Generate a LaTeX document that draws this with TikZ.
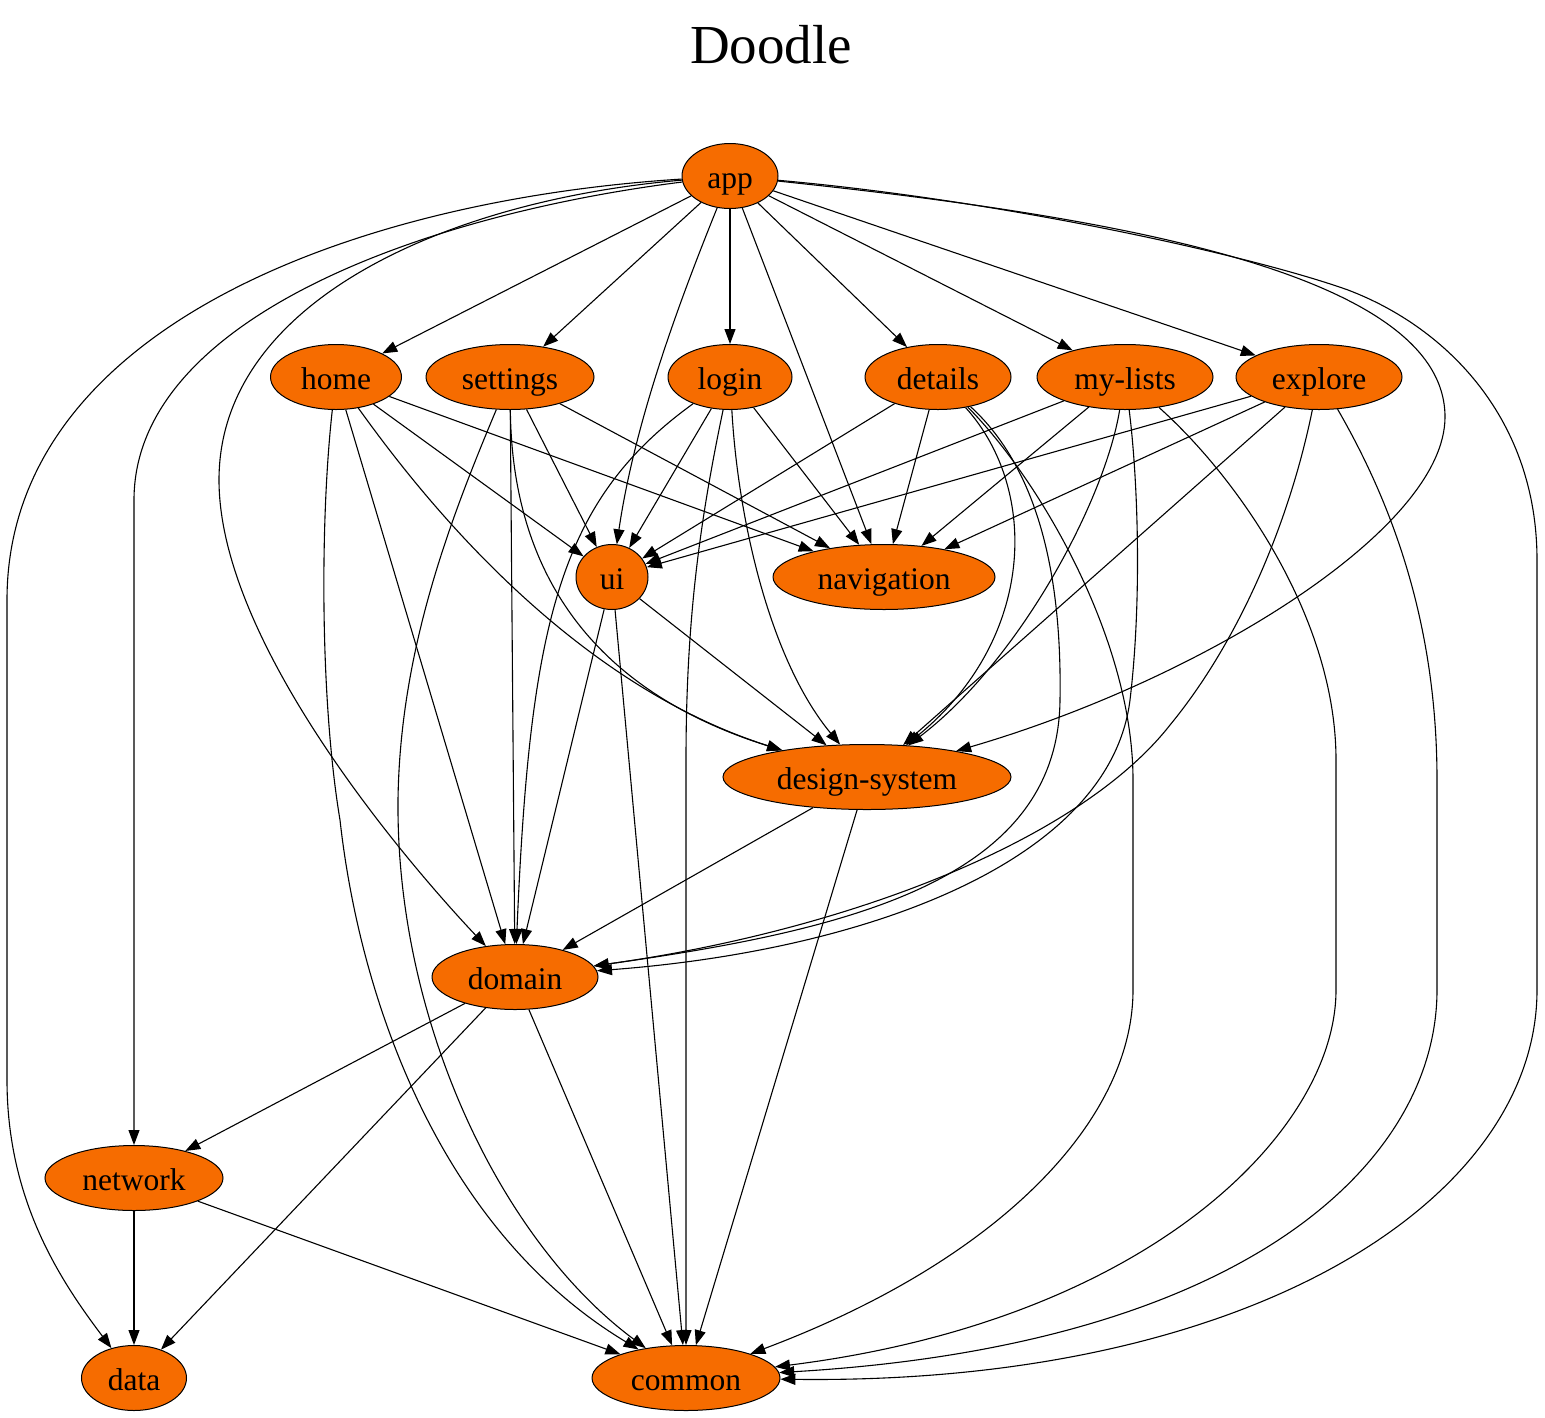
\documentclass[tikz,border=0pt]{standalone}
\usepackage{fontspec}
\setmainfont{Liberation Serif}
\usetikzlibrary{shapes.geometric,arrows.meta}
\definecolor{modfill}{RGB}{246,108,0}
\begin{document}
\begin{tikzpicture}[x=1pt,y=-1pt,
  mod/.style={ellipse, draw=black, line width=1pt, fill=modfill, inner sep=0pt,
    minimum height=65pt, text height=24pt, text depth=0pt,
    font=\fontsize{31.5}{36}\selectfont},
  dep/.style={draw=black, line width=1.1pt, -{Triangle[length=15pt,width=11pt]}}]
\useasboundingbox (0,0) rectangle (1545,1417);

% title
\node[font=\fontsize{55}{60}\selectfont] (title) at (771,45) {Doodle};

% modules
\node[mod, minimum width=96pt]  (app)      at (730,176)  {app};
\node[mod, minimum width=131pt] (home)     at (336,377)  {home};
\node[mod, minimum width=168pt] (settings) at (510,377)  {settings};
\node[mod, minimum width=124pt] (login)    at (730,377)  {login};
\node[mod, minimum width=146pt] (details)  at (938,377)  {details};
\node[mod, minimum width=176pt] (mylists)  at (1125,377) {my-lists};
\node[mod, minimum width=166pt] (explore)  at (1319,377) {explore};
\node[mod, minimum width=72pt]  (ui)       at (612,577)  {ui};
\node[mod, minimum width=222pt] (nav)      at (884,577)  {navigation};
\node[mod, minimum width=288pt] (ds)       at (867,777)  {design-system};
\node[mod, minimum width=166pt] (domain)   at (515,977)  {domain};
\node[mod, minimum width=178pt] (network)  at (134,1178) {network};
\node[mod, minimum width=105pt] (data)     at (134,1378) {data};
\node[mod, minimum width=188pt] (common)   at (686,1378) {common};

% app
\draw[dep] (app) -- (home);
\draw[dep] (app) -- (settings);
\draw[dep] (app) -- (login);
\draw[dep] (app) -- (details);
\draw[dep] (app) -- (mylists);
\draw[dep] (app) -- (explore);
\draw[dep] (app) .. controls (680,300) and (635,420) .. (ui);
\draw[dep] (app) -- (nav);
\draw[dep] (app) .. controls (1100,215) and (1445,270) .. (1445,417)
                 .. controls (1445,530) and (1200,680) .. (ds);
\draw[dep] (app) .. controls (1000,200) and (1250,255) .. (1348,290)
                 .. controls (1448,328) and (1537,420) .. (1537,560) -- (1537,990)
                 .. controls (1537,1200) and (1250,1385) .. (common);
\draw[dep] (app) .. controls (450,200) and (219,300) .. (219,480)
                 .. controls (219,640) and (400,855) .. (domain);
\draw[dep] (app) .. controls (420,215) and (134,320) .. (134,500) -- (network);
\draw[dep] (app) .. controls (350,200) and (7,330) .. (7,600) -- (7,1080)
                 .. controls (7,1200) and (60,1280) .. (data);

% home
\draw[dep] (home) -- (ui);
\draw[dep] (home) -- (nav);
\draw[dep] (home) .. controls (410,480) and (560,680) .. (ds);
\draw[dep] (home) -- (domain);
\draw[dep] (home) .. controls (320,520) and (320,700) .. (340,820)
                  .. controls (360,1000) and (440,1230) .. (common);

% settings
\draw[dep] (settings) -- (ui);
\draw[dep] (settings) -- (nav);
\draw[dep] (settings) .. controls (512,570) and (590,690) .. (ds);
\draw[dep] (settings) -- (domain);
\draw[dep] (settings) .. controls (450,520) and (400,650) .. (398,800)
                      .. controls (396,1020) and (500,1240) .. (common);

% login
\draw[dep] (login) -- (ui);
\draw[dep] (login) -- (nav);
\draw[dep] (login) .. controls (738,520) and (770,660) .. (ds);
\draw[dep] (login) .. controls (560,500) and (530,620) .. (domain);
\draw[dep] (login) .. controls (700,520) and (686,620) .. (686,760) -- (common);

% details
\draw[dep] (details) -- (ui);
\draw[dep] (details) -- (nav);
\draw[dep] (details) .. controls (1040,490) and (1035,640) .. (ds);
\draw[dep] (details) .. controls (1040,470) and (1062,580) .. (1060,700)
                     .. controls (1058,880) and (850,930) .. (domain);
\draw[dep] (details) .. controls (1040,480) and (1133,640) .. (1133,780) -- (1133,990)
                     .. controls (1133,1120) and (1000,1260) .. (common);

% my-lists
\draw[dep] (mylists) -- (ui);
\draw[dep] (mylists) -- (nav);
\draw[dep] (mylists) .. controls (1105,500) and (1020,660) .. (ds);
\draw[dep] (mylists) .. controls (1138,480) and (1142,600) .. (1130,700)
                     .. controls (1110,860) and (870,950) .. (domain);
\draw[dep] (mylists) .. controls (1240,480) and (1336,620) .. (1336,760) -- (1336,990)
                     .. controls (1336,1130) and (1150,1320) .. (common);

% explore
\draw[dep] (explore) -- (ui);
\draw[dep] (explore) -- (nav);
\draw[dep] (explore) -- (ds);
\draw[dep] (explore) .. controls (1290,520) and (1240,640) .. (1170,725)
                     .. controls (1080,840) and (850,930) .. (domain);
\draw[dep] (explore) .. controls (1390,500) and (1437,620) .. (1437,780) -- (1437,990)
                     .. controls (1437,1160) and (1250,1345) .. (common);

% ui
\draw[dep] (ui) -- (ds);
\draw[dep] (ui) -- (domain);
\draw[dep] (ui) -- (common);

% design-system
\draw[dep] (ds) -- (domain);
\draw[dep] (ds) -- (common);

% domain
\draw[dep] (domain) -- (network);
\draw[dep] (domain) -- (data);
\draw[dep] (domain) -- (common);

% network
\draw[dep] (network) -- (data);
\draw[dep] (network) -- (common);
\end{tikzpicture}
\end{document}
